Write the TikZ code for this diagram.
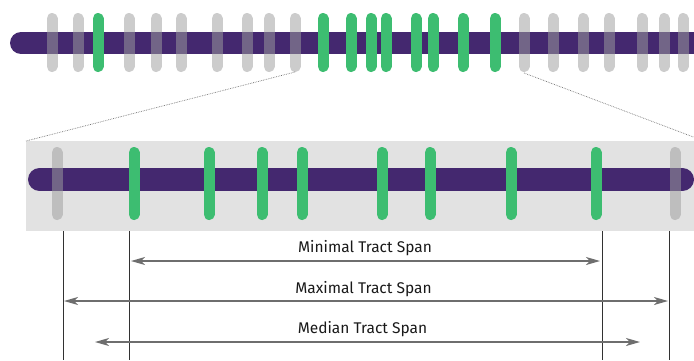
\documentclass[tikz,border=0pt]{standalone}
\usepackage{fontspec}
\setmainfont{Fira Sans}
\usetikzlibrary{arrows.meta}
\definecolor{barpurple}{RGB}{68,40,111}
\definecolor{tickgreen}{RGB}{61,189,113}
\definecolor{tickgray}{RGB}{158,158,158}
\definecolor{boxgray}{RGB}{226,226,226}
\definecolor{arrowgray}{RGB}{110,110,110}
\definecolor{guide}{RGB}{50,50,50}
\begin{document}
\begin{tikzpicture}[x=1pt,y=-1pt,
  bar/.style={line width=22pt,line cap=round,barpurple},
  gtick/.style={line width=11pt,line cap=round,tickgreen},
  ntick/.style={line width=11pt,line cap=round,tickgray,opacity=0.52},
  zoomline/.style={densely dotted,line width=0.7pt,black!55},
  guideline/.style={line width=0.8pt,guide},
  span/.style={line width=1.4pt,arrowgray,{Stealth[length=14pt,width=8pt,inset=4pt]}-{Stealth[length=14pt,width=8pt,inset=4pt]}},
  lbl/.style={font=\fontsize{15.5}{17}\selectfont,text=black!90,anchor=base,inner sep=0pt}]
\useasboundingbox (0,0) rectangle (694,360);
\begin{scope}
\clip (0,0) rectangle (694,360);
% top chromosome
\draw[bar] (21,43) -- (720,43);
\foreach \x in {52,78,129,156,181,217,247,269,295,524,553,583,609,642,664,683}
  \draw[ntick] (\x,18.5) -- (\x,66.5);
\foreach \x in {98,323,351,371,386,416,433,463,495}
  \draw[gtick] (\x,18.5) -- (\x,66.5);
% zoom box
\fill[boxgray] (26,141) rectangle (704,231);
\coordinate (zl) at (295,72);
\coordinate (zr) at (524,73);
\coordinate (bl) at (26,141);
\coordinate (br) at (704,141);
\draw[zoomline] (zl) -- (bl);
\draw[zoomline] (zr) -- (br);
\draw[line width=23pt,line cap=round,barpurple] (39.5,179.5) -- (682.5,179.5);
\foreach \x in {57,675}
  \draw[ntick] (\x,152.5) -- (\x,214.5);
\foreach \x in {134,209,262,302,382,430,511,596}
  \draw[gtick] (\x,152.5) -- (\x,214.5);
% guide lines
\coordinate (g1t) at (63,231);  \coordinate (g1b) at (63,360);
\coordinate (g2t) at (129,231); \coordinate (g2b) at (129,360);
\coordinate (g3t) at (602,231); \coordinate (g3b) at (602,360);
\coordinate (g4t) at (669,231); \coordinate (g4b) at (669,360);
\draw[guideline] (g1t) -- (g1b);
\draw[guideline] (g2t) -- (g2b);
\draw[guideline] (g3t) -- (g3b);
\draw[guideline] (g4t) -- (g4b);
% spans
\coordinate (minl) at (131,261); \coordinate (minr) at (600,261);
\coordinate (maxl) at (64,301);  \coordinate (maxr) at (668,301);
\coordinate (medl) at (95,342);  \coordinate (medr) at (640,342);
\draw[span] (minl) -- (minr);
\draw[span] (maxl) -- (maxr);
\draw[span] (medl) -- (medr);
\node[lbl] (tmin) at (365,252) {Minimal Tract Span};
\node[lbl] (tmax) at (363.5,293) {Maximal Tract Span};
\node[lbl] (tmed) at (362.5,333) {Median Tract Span};
\end{scope}
\end{tikzpicture}
\end{document}
